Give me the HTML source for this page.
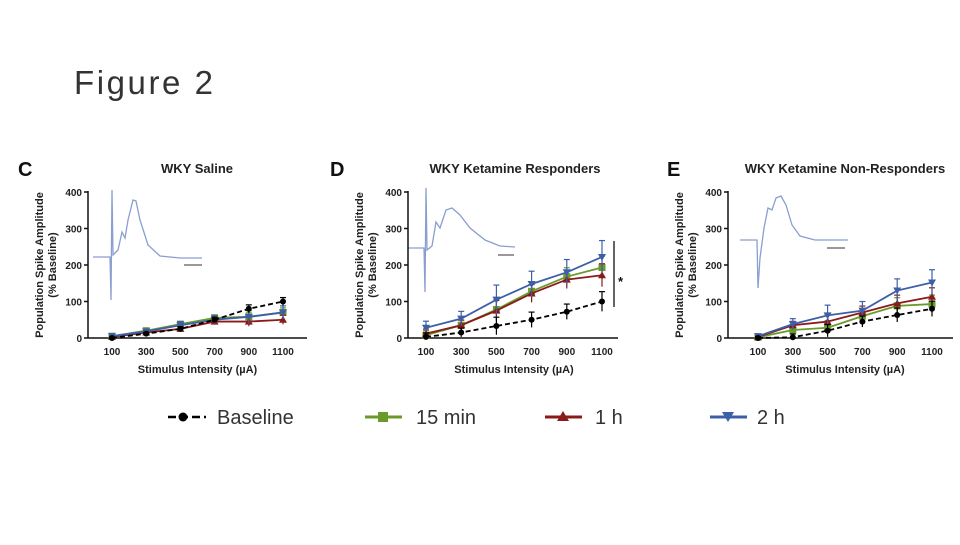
<!DOCTYPE html>
<html><head><meta charset="utf-8"><style>
body{margin:0;background:#fff;width:960px;height:540px;overflow:hidden;font-family:"Liberation Sans",sans-serif}
</style></head><body>
<svg id="fig" width="960" height="540" xmlns="http://www.w3.org/2000/svg">
<text x="74" y="94" font-size="33" fill="#333" textLength="139" lengthAdjust="spacing" font-family="Liberation Sans, sans-serif">Figure 2</text>
<g id="panels"></g>
<g id="legend" font-size="20" fill="#333">
<g><line x1="168" y1="417" x2="206" y2="417" stroke="#000" stroke-width="2.5" stroke-dasharray="8,4"/><circle cx="183" cy="417" r="4.5" fill="#000"/><text x="217" y="424">Baseline</text></g>
<g><line x1="365" y1="417" x2="402" y2="417" stroke="#6a9a2a" stroke-width="3"/><rect x="378" y="412" width="10" height="10" fill="#6a9a2a"/><text x="416" y="424">15 min</text></g>
<g><line x1="545" y1="417" x2="582" y2="417" stroke="#8b1a1a" stroke-width="3"/><polygon points="563,411 569,421 557,421" fill="#8b1a1a"/><text x="595" y="424">1 h</text></g>
<g><line x1="710" y1="417" x2="747" y2="417" stroke="#3d5fa8" stroke-width="3"/><polygon points="722,412 734,412 728,422" fill="#3d5fa8"/><text x="757" y="424">2 h</text></g>
</g>
</svg>
<script>
const categories=[100,300,500,700,900,1100];
const yTicks=[0,100,200,300,400];
const seriesNames=["baseline","15min","1h","2h"];
const C_baseline=[0,12,25,50,80,100];
const C_15min=[5,20,38,55,58,70];
const C_1h=[3,15,25,45,45,50];
const C_2h=[5,18,35,50,58,70];
const C_err=[5,6,10,12,18,18];
const D_baseline=[3,15,33,50,72,100];
const D_15min=[8,35,78,128,168,193];
const D_1h=[12,35,75,122,160,172];
const D_2h=[28,53,105,148,180,222];
const D_err=[18,20,40,35,35,45];
const E_baseline=[0,2,20,45,63,80];
const E_15min=[2,22,28,60,88,93];
const E_1h=[3,35,45,70,95,113];
const E_2h=[5,38,62,75,130,152];
const E_err=[6,15,28,25,32,35];
const NS="http://www.w3.org/2000/svg";
const colors={baseline:"#000","15min":"#6a9a2a","1h":"#8b1a1a","2h":"#3d5fa8"};
const panels=[
 {id:"c",letter:"C",title:"WKY Saline",ax:88,x0:112,x1:283,xe:307,lx:18,tx:197,data:[C_baseline,C_15min,C_1h,C_2h],err:C_err,inset:"M93,257 L110,257 L111,300 L112,190 L113,255 L118,250 L122,232 L125,238 L128,220 L133,200 L136,201 L140,220 L148,245 L160,256 L180,258 L202,258",bar:[184,265,202]},
 {id:"d",letter:"D",title:"WKY Ketamine Responders",ax:408,x0:426,x1:602,xe:618,lx:330,tx:515,data:[D_baseline,D_15min,D_1h,D_2h],err:D_err,inset:"M408,248 L424,248 L425,292 L426,188 L427,250 L432,246 L436,222 L440,228 L446,210 L452,208 L460,215 L470,228 L485,240 L500,246 L515,247",bar:[498,255,514]},
 {id:"e",letter:"E",title:"WKY Ketamine Non-Responders",ax:728,x0:758,x1:932,xe:953,lx:667,tx:845,data:[E_baseline,E_15min,E_1h,E_2h],err:E_err,inset:"M740,240 L757,240 L758,288 L760,258 L764,228 L768,208 L772,210 L776,198 L781,196 L786,205 L792,225 L800,236 L815,240 L848,240",bar:[827,248,845]}
];
const ys=v=>338-v*(146/400);
function el(tag,attrs,parent){const e=document.createElementNS(NS,tag);for(const k in attrs)e.setAttribute(k,attrs[k]);parent.appendChild(e);return e;}
const root=document.getElementById("panels");
panels.forEach(p=>{
 const xs=c=>p.x0+(c-100)*(p.x1-p.x0)/1000;
 const g=el("g",{},root);
 
 
 const L=el("text",{x:p.lx,y:176,"font-size":20,"font-weight":"bold",fill:"#111"},g);L.textContent=p.letter;
 
 
 const T=el("text",{x:p.tx,y:173,"font-size":13,"font-weight":"bold","text-anchor":"middle",fill:"#222"},g);T.textContent=p.title;
 
 
 const ins=el("path",{d:p.inset,fill:"none",stroke:"#8a9ed0","stroke-width":1.3},g);
 
 
 el("line",{x1:p.bar[0],y1:p.bar[1],x2:p.bar[2],y2:p.bar[1],stroke:"#333","stroke-width":1},g);
 const yax=el("line",{x1:p.ax,y1:191,x2:p.ax,y2:338,stroke:"#111","stroke-width":1.5},g);
 
 
 const xax=el("line",{x1:p.ax,y1:338,x2:p.xe,y2:338,stroke:"#111","stroke-width":1.5},g);
 
 
 yTicks.forEach(t=>{
  el("line",{x1:p.ax-4,y1:ys(t),x2:p.ax,y2:ys(t),stroke:"#111","stroke-width":1.5},g);
  const tt=el("text",{x:p.ax-6,y:ys(t)+4,"font-size":10,"font-weight":"bold","text-anchor":"end",fill:"#222"},g);tt.textContent=t;
  
  
 });
 categories.forEach(c=>{
  const tt=el("text",{x:xs(c),y:355,"font-size":10,"font-weight":"bold","text-anchor":"middle",fill:"#222"},g);tt.textContent=c;
  
  
 });
 const xt=el("text",{x:(p.x0+p.x1)/2,y:373,"font-size":11,"font-weight":"bold","text-anchor":"middle",fill:"#222"},g);xt.textContent="Stimulus Intensity (µA)";
 
 
 const yt=el("text",{transform:`translate(${p.ax-45},265) rotate(-90)`,"font-size":11,"font-weight":"bold","text-anchor":"middle",fill:"#222"},g);yt.textContent="Population Spike Amplitude";
 
 
 const yt2=el("text",{transform:`translate(${p.ax-32},265) rotate(-90)`,"font-size":11,"font-weight":"bold","text-anchor":"middle",fill:"#222"},g);yt2.textContent="(% Baseline)";
 
 
 [1,2,3,0].forEach(si=>{
  const vals=p.data[si],name=seriesNames[si],col=colors[name];
  const sg=el("g",{},g);
  
  
  vals.forEach((v,i)=>{
   const e=p.err[i]*(si==0?0.6:(si==3?1:0.7));
   const x=xs(categories[i]);
   el("line",{x1:x,y1:ys(v+e),x2:x,y2:ys(Math.max(0,v-e)),stroke:col,"stroke-width":1.2},sg);
   el("line",{x1:x-3,y1:ys(v+e),x2:x+3,y2:ys(v+e),stroke:col,"stroke-width":1.2},sg);
  });
  const pts=vals.map((v,i)=>xs(categories[i])+","+ys(v)).join(" ");
  const ln=el("polyline",{points:pts,fill:"none",stroke:col,"stroke-width":1.8},sg);
  if(si==0)ln.setAttribute("stroke-dasharray","5,3");
  
  
  vals.forEach((v,i)=>{
   const x=xs(categories[i]),y=ys(v);let m;
   if(si==0)m=el("circle",{cx:x,cy:y,r:3,fill:col},sg);
   else if(si==1)m=el("rect",{x:x-3.5,y:y-3.5,width:7,height:7,fill:col},sg);
   else if(si==2)m=el("polygon",{points:`${x},${y-4} ${x+4},${y+3} ${x-4},${y+3}`,fill:col},sg);
   else m=el("polygon",{points:`${x-4},${y-3} ${x+4},${y-3} ${x},${y+4}`,fill:col},sg);
   
   
  });
 });
 if(p.id==="d"){
  const s=el("line",{x1:614,y1:241,x2:614,y2:307,stroke:"#111","stroke-width":1.3},g);
  
  
  const st=el("text",{x:618,y:286,"font-size":13,"font-weight":"bold",fill:"#111"},g);st.textContent="*";
  
  
 }
});
</script>
</body></html>
